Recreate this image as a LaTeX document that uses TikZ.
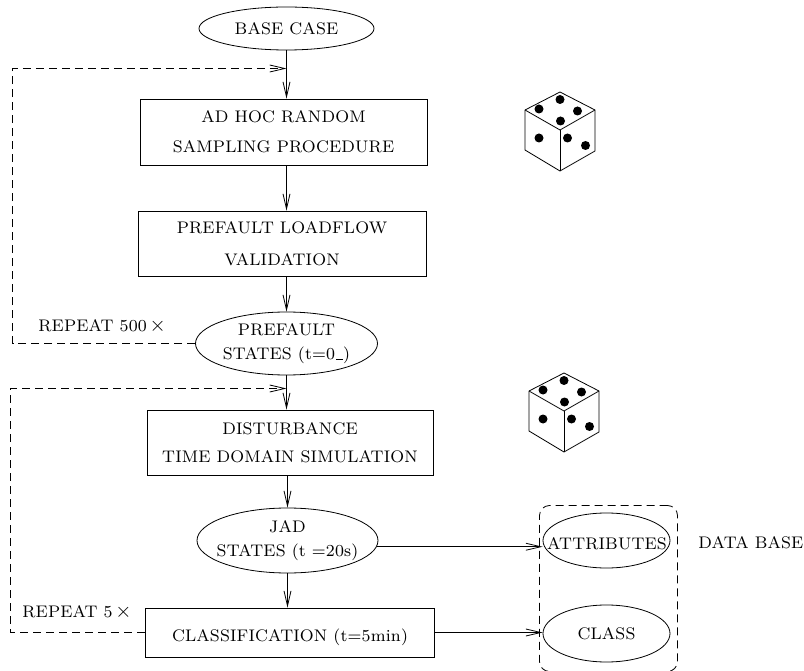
\documentclass[tikz,border=0pt]{standalone}
\usepackage{fontspec}
\newfontfamily\labfont{lmroman8-regular.otf}[LetterSpace=1]
\usetikzlibrary{arrows.meta,shapes.geometric,calc}

\tikzset{
  die/.pic={
    \draw[line join=round] (0,0) -- (-35,18) -- (-35,58) -- (0,79) -- (35,59) -- (35,18) -- cycle;
    \draw[line join=round] (-35,18) -- (0,38) -- (35,18);
    \draw (0,38) -- (0,79);
    \foreach \a/\b in {-21/17, 0/7.5, 17.5/19, 0.5/29, -21/46, 7.5/46, 25.5/53.5}
      \fill (\a,\b) circle[radius=4.5pt];
  }
}

\begin{document}
\begin{tikzpicture}[x=1pt,y=-1pt,
  line width=0.8pt,
  >={Straight Barb[length=15pt,width=7pt]},
  lab/.style={font=\labfont\fontsize{16.8}{18}\selectfont, inner sep=0pt, align=center},
  stepbox/.style={draw, rectangle, inner sep=0pt, lab},
  oval/.style={draw, ellipse, inner sep=0pt},
  repeatline/.style={dash pattern=on 8pt off 5pt},
]
\useasboundingbox (0,0) rectangle (804,671);

% main chain
\node[oval, minimum width=175pt, minimum height=43pt] (base) at (286.5,28.5) {};
\node[lab] (base-t) at (base) {BASE CASE};
\node[stepbox, minimum width=287pt, minimum height=66pt] (sampling) at (283.5,132) {AD HOC RANDOM\\[12pt]SAMPLING PROCEDURE};
\node[stepbox, minimum width=288pt, minimum height=65pt] (loadflow) at (282,243.5) {PREFAULT LOADFLOW\\[14pt]VALIDATION};
\node[oval, minimum width=182pt, minimum height=63pt] (prefault) at (286.5,343.5) {};
\node[lab] (prefault-t) at (prefault) {PREFAULT\\[6pt]STATES (t=0\kern1pt\rule[-0.5pt]{7pt}{0.9pt})};
\node[stepbox, minimum width=286pt, minimum height=65pt] (disturb) at (290,442.5) {DISTURBANCE\\[10pt]TIME DOMAIN SIMULATION};
\node[oval, minimum width=181pt, minimum height=65pt] (jad) at (287.5,540.5) {};
\node[lab] (jad-t) at (jad) {JAD\\[6pt]STATES (t =20s)};
\node[stepbox, minimum width=289pt, minimum height=49pt] (classif) at (289.5,632.5) {};
\node[lab] (classif-t) at (290,637) {CLASSIFICATION (t=5min)};

% data base
\node[oval, minimum width=127pt, minimum height=55pt] (attr) at (606.5,540.5) {};
\node[lab] (attr-t) at (607,544) {ATTRIBUTES};
\node[oval, minimum width=127pt, minimum height=57pt] (class) at (606.5,633.5) {};
\node[lab] (class-t) at (class) {CLASS};
\node[draw, repeatline, rounded corners=10pt, minimum width=138pt, minimum height=166pt] (db) at (608.5,588.5) {};
\node[lab, anchor=west] (db-t) at (698,543) {DATA BASE};

% repeat labels
\node[lab, anchor=west] (rep1) at (38,326) {REPEAT 500\,{\fontsize{21}{21}\selectfont$\times$}};
\node[lab, anchor=west] (rep2) at (22,612) {REPEAT 5\,{\fontsize{21}{21}\selectfont$\times$}};

% dice
\pic (die1) at (560,92) {die};
\pic (die2) at (564,373) {die};

% flow arrows
\draw[->] (base) -- (base |- sampling.north);
\draw[->] (sampling.south -| base) -- (loadflow.north -| base);
\draw[->] (loadflow.south -| prefault) -- (prefault);
\draw[->] (prefault) -- (prefault |- disturb.north);
\draw[->] (disturb.south -| jad) -- (jad);
\draw[->] (jad) -- (jad |- classif.north);
\draw[->] (jad.-4) -- (jad.-4 -| attr.west);
\draw[->] (classif.east) -- (classif.east -| class.west);

% repetition loops
\coordinate (in1) at (286.5,68.5);
\coordinate (c1) at (12.5,68.5);
\draw[repeatline,->] (prefault.west) -| (c1) -- (in1);
\coordinate (in2) at (286.5,388.5);
\coordinate (c2) at (10.5,388.5);
\draw[repeatline,->] (classif.west) -| (c2) -- (in2);
\end{tikzpicture}
\end{document}
